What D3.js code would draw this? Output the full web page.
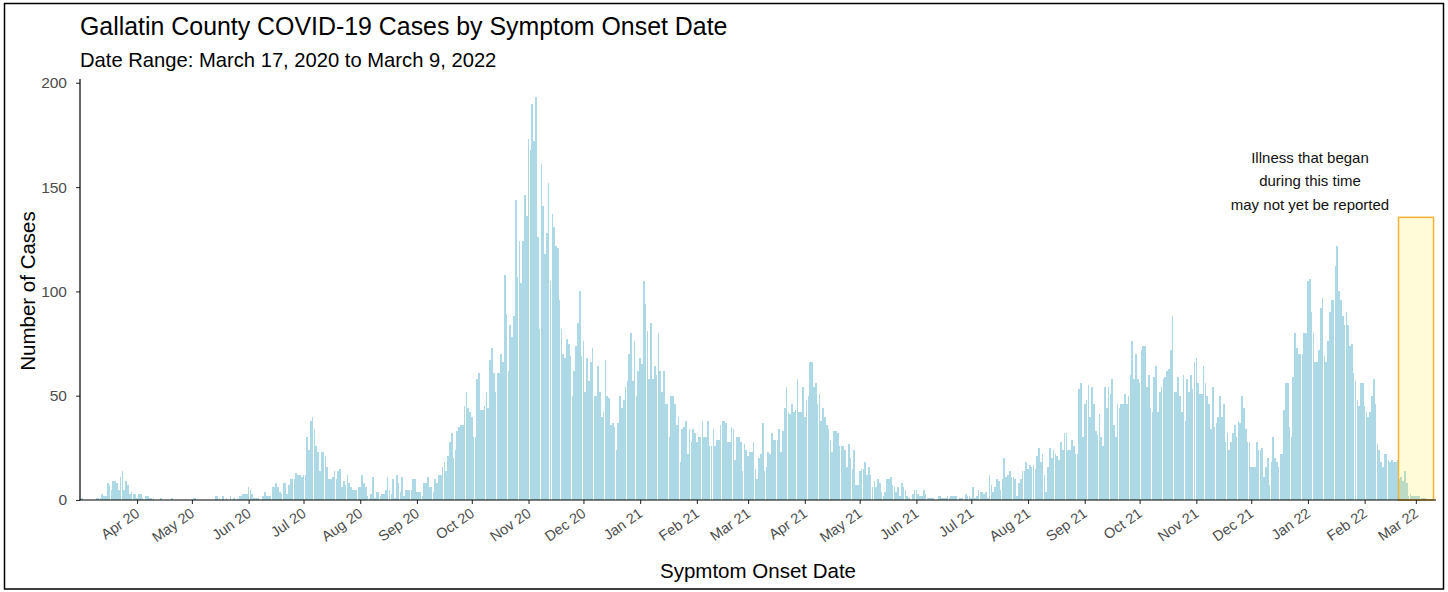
<!DOCTYPE html>
<html><head><meta charset="utf-8">
<script src="https://cdn.jsdelivr.net/npm/d3@7"></script>
<style>
body{margin:0;background:#fff}
svg{display:block}
text{font-family:"Liberation Sans",Arial,Helvetica,sans-serif}
</style>
</head><body>
<svg id="chart" width="1448" height="592"></svg>
<script>
// ---------- DATA (daily cases by symptom onset date) ----------
const firstDay = [2020, 2, 1]; // March 1, 2020
const mar2020 = [0,1,0,0,0,0,0,0,0,1, 1,1,3,2,2,8,7,5,9,9, 8,5,11,14,5,9,7,3,4,3, 3];
const apr2020 = [1,3,3,1,0,2,2,1,1,1, 0,0,0,1,0,0,0,0,0,1, 0,0,0,0,0,0,0,0,0,0];
const may2020 = [0,1,1,0,0,0,0,0,0,0, 0,0,0,2,2,1,0,2,0,1, 0,2,0,1,0,1,2,2,3,3, 3];
const jun2020 = [6,5,3,1,1,1,0,0,2,4, 2,2,2,6,6,8,6,4,3,8, 8,3,7,10,10,10,13,12,12,11];
const jul2020 = [12,12,30,24,38,40,34,26,23,14, 23,23,21,16,10,10,11,14,10,14, 15,6,9,7,12,8,6,5,5,5, 6];
const aug2020 = [6,12,8,6,2,1,3,11,1,4, 4,2,3,3,5,11,5,3,10,1, 12,8,4,11,2,5,5,5,5,10, 10];
const sep2020 = [4,4,4,2,8,8,11,6,6,4, 10,8,12,12,16,18,14,21,28,32, 20,24,33,35,36,36,45,52,44,42];
const oct2020 = [40,30,30,58,61,43,43,45,52,44, 67,73,61,52,61,61,70,66,108,89, 62,84,78,88,144,107,124,104,124,146, 136];
const nov2020 = [173,168,190,172,193,126,82,161,141,118, 128,152,105,137,131,122,121,96,82,70, 68,77,75,69,50,62,74,85,100,69];
const dec2020 = [76,52,68,57,66,73,50,50,64,52, 40,42,67,50,49,36,37,35,24,37, 50,44,48,54,57,70,80,57,76,50, 62];
const jan2021 = [68,65,105,94,81,58,85,58,64,60, 80,62,52,62,46,46,30,50,50,46, 36,40,18,34,35,38,22,34,28,34, 32];
const feb2021 = [28,30,30,38,30,30,38,26,26,34, 26,29,29,36,38,38,37,28,28,35, 34,19,30,30,28,14,27,24];
const mar2021 = [21,23,23,28,15,10,20,22,37,14, 16,23,22,32,29,29,29,34,23,33, 44,54,42,41,46,42,43,58,42,42, 54];
const apr2021 = [40,48,50,66,66,54,56,46,51,38, 44,40,36,34,29,23,33,33,32,26, 26,26,24,16,27,20,15,24,7,7];
const may2021 = [14,15,15,18,12,16,12,6,9,6, 10,8,4,2,4,10,10,11,7,6, 4,6,2,8,6,5,2,1,0,3, 5];
const jun2021 = [5,3,2,2,5,3,1,1,1,1, 0,0,2,2,1,1,1,2,1,2, 2,2,2,0,1,1,0,3,2,2];
const jul2021 = [1,6,1,2,5,4,4,3,4,1, 12,7,4,6,10,9,5,10,20,11, 12,14,11,11,10,2,8,10,14,14, 18];
const aug2021 = [15,17,16,17,15,21,25,18,22,12, 4,16,25,20,24,22,21,19,28,24, 32,32,24,24,29,26,22,22,53,56, 30];
const sep2021 = [46,48,55,40,54,46,33,31,41,30, 26,54,44,54,51,58,36,30,46,44, 46,46,51,46,50,60,76,58,70,58];
const oct2021 = [56,72,74,74,54,60,44,42,59,64, 42,52,54,58,59,62,63,72,88,52, 52,59,50,42,60,38,58,52,60,53, 66];
const nov2021 = [68,56,51,51,64,56,50,46,34,54, 35,37,40,50,40,46,28,32,24,28, 32,36,30,38,37,50,44,34,28,28];
const dec2021 = [16,16,16,28,24,24,25,11,16,20, 7,18,30,20,18,16,22,22,43,56, 56,35,30,59,80,73,70,70,70,80, 80];
const jan2022 = [105,106,90,80,66,66,72,92,97,69, 66,76,90,96,96,112,122,100,96,88, 84,90,84,74,75,61,57,48,45,56, 56];
const feb2022 = [45,42,40,42,50,58,46,27,24,18, 16,22,22,19,18,19,18,18,19,10, 11,9,14,8,2,3,2,2];
const mar2022 = [2,2,2,1,1,1,0,0,0];

const monthlySeries = [mar2020, apr2020, may2020, jun2020, jul2020, aug2020, sep2020, oct2020, nov2020, dec2020,
  jan2021, feb2021, mar2021, apr2021, may2021, jun2021, jul2021, aug2021, sep2021, oct2021, nov2021, dec2021,
  jan2022, feb2022, mar2022];

const yTickValues = [0, 50, 100, 150, 200];
const xTickLabels = ["Apr 20","May 20","Jun 20","Jul 20","Aug 20","Sep 20","Oct 20","Nov 20","Dec 20",
  "Jan 21","Feb 21","Mar 21","Apr 21","May 21","Jun 21","Jul 21","Aug 21","Sep 21","Oct 21","Nov 21","Dec 21",
  "Jan 22","Feb 22","Mar 22"];

const titleText = "Gallatin County COVID-19 Cases by Symptom Onset Date";
const subtitleText = "Date Range: March 17, 2020 to March 9, 2022";
const xTitle = "Sypmtom Onset Date";
const yTitle = "Number of Cases";
const noteLines = ["Illness that began", "during this time", "may not yet be reported"];
const pendingWindow = {start: [2022, 1, 19, 12], end: [2022, 2, 10, 16], top: 135.5};

// ---------- BUILD ----------
const start = new Date(firstDay[0], firstDay[1], firstDay[2]);
const values = monthlySeries.flat();
const data = values.map((v, i) => ({date: d3.timeDay.offset(start, i), value: v}));

const svg = d3.select("#chart");
svg.append("rect").attr("width", 1448).attr("height", 592).attr("fill", "#fff");

const x = d3.scaleTime()
  .domain([new Date(2020, 1, 29, 20), new Date(2022, 2, 12)])
  .range([80, 1436]);
const y = d3.scaleLinear().domain([0, 200]).range([500, 82.8]);

const dayW = x(d3.timeDay.offset(start, 1)) - x(start);
const barW = dayW * 0.9;

svg.append("g").attr("shape-rendering", "crispEdges").selectAll("rect").data(data).join("rect")
  .attr("x", d => x(d.date) - barW / 2)
  .attr("y", d => y(d.value))
  .attr("width", barW)
  .attr("height", d => y(0) - y(d.value))
  .attr("fill", "#ADD8E6");

// pending window rectangle
const pStart = new Date(...pendingWindow.start);
const pEnd = new Date(...pendingWindow.end);
svg.append("rect")
  .attr("x", x(pStart)).attr("y", y(pendingWindow.top))
  .attr("width", x(pEnd) - x(pStart)).attr("height", y(0) - y(pendingWindow.top))
  .attr("fill", "rgb(255,228,60)").attr("fill-opacity", 0.2)
  .attr("stroke", "#F5B335").attr("stroke-width", 1.5);

// note
const note = svg.append("text").attr("text-anchor", "middle").attr("font-size", 15).attr("fill", "#111");
noteLines.forEach((t, i) => note.append("tspan").attr("x", 1310).attr("y", 163 + i * 23.3).text(t));

// axes
const monthTicks = d3.timeMonth.range(new Date(2020, 3, 1), new Date(2022, 2, 2));
const xAxis = d3.axisBottom(x).tickValues(monthTicks).tickFormat((d, i) => xTickLabels[i]).tickSize(4).tickSizeOuter(0);
const gx = svg.append("g").attr("transform", "translate(0,500)").call(xAxis);
gx.select(".domain").remove();
gx.selectAll(".tick line").attr("stroke", "#333").attr("stroke-width", 1.1);
gx.selectAll(".tick text")
  .attr("x", 0).attr("y", 0).attr("dy", "0.72em")
  .attr("text-anchor", "end")
  .attr("transform", "translate(-3,7) rotate(-35)")
  .attr("font-size", 14.5).attr("fill", "#4D4D4D");

const yAxis = d3.axisLeft(y).tickValues(yTickValues).tickSize(4).tickPadding(9);
const gy = svg.append("g").attr("transform", "translate(80,0)").call(yAxis);
gy.select(".domain").remove();
gy.selectAll(".tick line").attr("stroke", "#333").attr("stroke-width", 1.1);
gy.selectAll(".tick text").attr("font-size", 15.5).attr("fill", "#4D4D4D");

svg.append("line").attr("x1", 80).attr("x2", 80).attr("y1", 79).attr("y2", 500.5).attr("stroke", "#000").attr("stroke-width", 1.2);
svg.append("line").attr("x1", 79.5).attr("x2", 1436).attr("y1", 500).attr("y2", 500).attr("stroke", "#000").attr("stroke-width", 1.2);

// titles
svg.append("text").attr("x", 80).attr("y", 35).attr("font-size", 24.9).attr("fill", "#000").text(titleText);
svg.append("text").attr("x", 80).attr("y", 67).attr("font-size", 20.2).attr("fill", "#000").text(subtitleText);
svg.append("text").attr("x", 758).attr("y", 578).attr("text-anchor", "middle").attr("font-size", 20.5).attr("fill", "#000").text(xTitle);
svg.append("text").attr("transform", "translate(35,291) rotate(-90)").attr("text-anchor", "middle").attr("font-size", 20.5).attr("fill", "#000").text(yTitle);

// frame
svg.append("rect").attr("x", 4.5).attr("y", 3.5).attr("width", 1439).attr("height", 585.5)
  .attr("fill", "none").attr("stroke", "#000").attr("stroke-width", 1.5);
</script>
</body></html>
